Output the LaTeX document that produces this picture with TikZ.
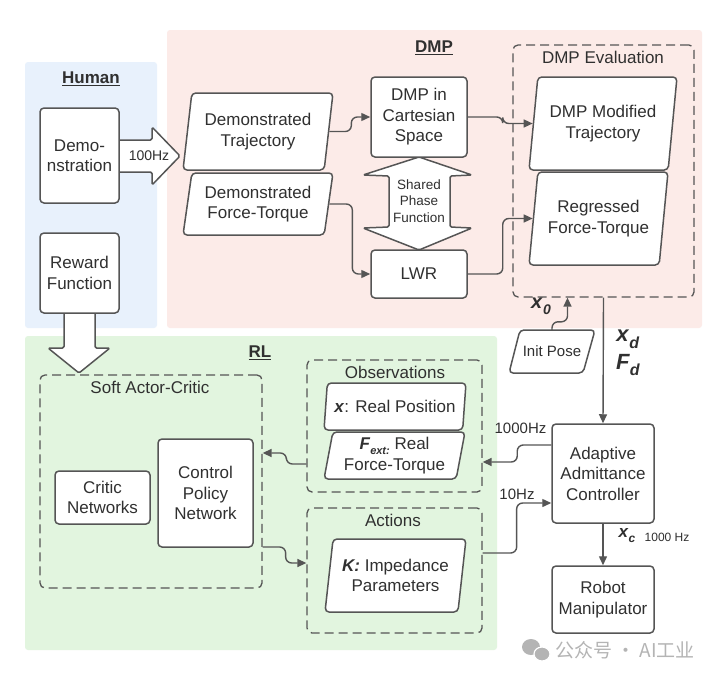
\documentclass[tikz,border=0pt]{standalone}
\usepackage{fontspec}
\setmainfont{Liberation Sans}
\newfontfamily\cjkfont{Noto Sans CJK SC}
\usetikzlibrary{shapes.geometric,arrows.meta}
\definecolor{humanbg}{HTML}{E8F1FC}
\definecolor{dmpbg}{HTML}{FCEBE8}
\definecolor{rlbg}{HTML}{E2F5DF}
\definecolor{edgec}{HTML}{555555}
\definecolor{txtc}{HTML}{303030}
\definecolor{wmc}{HTML}{B4B4B4}
\newcommand\fs[2]{\fontsize{#1}{#2}\selectfont}
\newcommand\bi[1]{\textbf{\textit{#1}}}
\newcommand\bvar[3]{\textbf{\textit{#1}}\raisebox{-.3em}{\fontsize{#3}{#3}\selectfont\textbf{\textit{#2}}}}
\begin{document}
\begin{tikzpicture}[x=1pt,y=-1pt,font=\fs{17}{20.5},text=txtc,
  rbox/.style={draw=edgec,line width=1.5pt,rounded corners=4pt,fill=white,align=center,inner sep=2pt},
  para/.style={trapezium,trapezium left angle=77,trapezium right angle=103,trapezium stretches body,
    draw=edgec,line width=1.5pt,rounded corners=4pt,fill=white,align=center,inner sep=1pt},
  paraline/.style={draw=edgec,line width=1.5pt,rounded corners=4pt,fill=white},
  dbox/.style={draw=edgec,line width=1.3pt,dash pattern=on 9pt off 5pt,rounded corners=5pt},
  conn/.style={draw=edgec,line width=1.4pt,rounded corners=6pt,-{Triangle[length=9pt,width=8pt]}},
  bigarr/.style={draw=edgec,line width=1.5pt,fill=white,rounded corners=1.5pt,line join=round},
  sectitle/.style={font=\fs{17}{20}\bfseries},
  dtitle/.style={font=\fs{17}{20}},
  small/.style={font=\fs{15}{18}}]
\useasboundingbox (0,0) rectangle (720,680);
\fill[white] (0,0) rectangle (720,680);
% backgrounds
\fill[humanbg,rounded corners=3pt] (25,62) rectangle (157,328);
\fill[dmpbg,rounded corners=3pt] (167,30) rectangle (702,328);
\fill[rlbg,rounded corners=3pt] (25,336) rectangle (497,650);
% section titles
\node[sectitle] (thuman) at (91,79) {\underline{Human}};
\node[sectitle] (tdmp) at (434,48) {\underline{DMP}};
\node[sectitle] (trl) at (260,353) {\underline{RL}};
% dashed groups
\node[dbox,minimum width=181,minimum height=252] (dmpeval) at (603.5,171) {};
\node[dtitle] (tdmpeval) at (603,57) {DMP Evaluation};
\node[dbox,minimum width=222,minimum height=213] (sac) at (151,481.5) {};
\node[dtitle] (tsac) at (150,387) {Soft Actor-Critic};
\node[dbox,minimum width=175,minimum height=132] (obs) at (394.5,426) {};
\node[dtitle] (tobs) at (395,372) {Observations};
\node[dbox,minimum width=175,minimum height=125] (act) at (394.5,570.5) {};
\node[dtitle] (tact) at (393,520) {Actions};
% big arrows
\draw[bigarr] (119,140) -- (152,140) -- (152,127) -- (180,156) -- (152,185) -- (152,172) -- (119,172);
\node[font=\fs{14}{16}] (hz100) at (149,156) {100Hz};
\draw[bigarr] (64,313) -- (64,348) -- (48,348) -- (79,373) -- (110,348) -- (95,348) -- (95,313);
\draw[bigarr] (419,157) -- (472,175) -- (450,176) -- (450,227) -- (472,228) -- (419,250) -- (363,228) -- (389,227) -- (389,176) -- (363,175) -- cycle;
\node[font=\fs{13.5}{16.7},align=center] (shared) at (419,201) {Shared\\Phase\\Function};
% boxes
\node[rbox,minimum width=79,minimum height=95] (demo) at (79.5,155.5) {Demo-\\nstration};
\node[rbox,minimum width=79,minimum height=80] (reward) at (79.5,273) {Reward\\Function};
\node[para,minimum width=150,minimum height=77] (dtraj) at (258,131.5) {Demonstrated\\Trajectory};
\node[para,minimum width=150,minimum height=62] (dft) at (258,204) {Demonstrated\\Force-Torque};
\node[rbox,minimum width=96,minimum height=80] (dmpcart) at (419,117) {DMP in\\Cartesian\\Space};
\node[rbox,minimum width=96,minimum height=48] (lwr) at (419,274) {LWR};
\node[para,minimum width=148,minimum height=93] (dmpmod) at (603,123.5) {DMP Modified\\Trajectory};
\node[para,minimum width=139,minimum height=93] (regft) at (598.5,218.5) {Regressed\\Force-Torque};
\draw[paraline] (520,330) -- (595,330) -- (583,373) -- (509,373) -- cycle;
\node[minimum height=43,inner sep=0pt,font=\fs{15}{18}] (initpose) at (552,351.5) {Init Pose};
\node[rbox,minimum width=102,minimum height=99] (aac) at (603,473.5) {Adaptive\\Admittance\\Controller};
\node[rbox,minimum width=102,minimum height=67] (robot) at (603,599.5) {Robot\\Manipulator};
\node[para,minimum width=142,minimum height=47] (xpos) at (395,406.5) {\bi{x}: Real Position};
\node[para,minimum width=141,minimum height=47] (fext) at (394.5,455.5) {\bvar{F}{ext:}{11} Real\\Force-Torque};
\node[para,minimum width=141,minimum height=73] (kimp) at (395.5,575.5) {\bi{K:} Impedance\\Parameters};
\node[rbox,minimum width=95,minimum height=53] (critic) at (102.5,497.5) {Critic\\Networks};
\node[rbox,minimum width=95,minimum height=108] (cpn) at (205.5,493) {Control\\Policy\\Network};
% connectors
\draw[conn] (dtraj.east) -- ++(22,0) |- (dmpcart.west);
\draw[conn] (dmpcart.east) -- ++(35,0) |- (dmpmod.west);
\draw[conn] (dft.east) -- ++(23,0) |- (lwr.west);
\draw[conn] (lwr.east) -- ++(35,0) |- (regft.west);
\coordinate (x0in) at ([xshift=-36pt]dmpeval.south);
\draw[conn] (initpose.north) -- ++(0,-8) -| (x0in);
\node[font=\fs{20}{20}] (lx0) at (541,306) {\bvar{x}{0}{14}};
\draw[conn] (dmpeval.south) -- (aac.north);
\node[font=\fs{22}{22}] (lxd) at (628,339) {\bvar{x}{d}{16}};
\node[font=\fs{22}{22}] (lfd) at (628,365) {\bvar{F}{d}{16}};
\draw[conn] (aac.south) -- (robot.north);
\node[font=\fs{17}{17}] (lxc) at (627,536) {\bvar{x}{c}{12}};
\node[font=\fs{12}{14}] (lhz3) at (667,537) {1000 Hz};
\draw[conn] ([yshift=28.5pt]aac.west) -- ++(-34,0) |- ([yshift=-36pt]obs.east);
\node[small] (lhz1) at (520.5,428) {1000Hz};
\draw[conn] ([yshift=17.5pt]act.east) -- ++(34,0) |- ([yshift=-29.5pt]aac.west);
\node[small] (lhz2) at (517,494) {10Hz};
\draw[conn] ([yshift=-38pt]obs.west) -- ++(-20,0) |- ([yshift=28.5pt]sac.east);
\draw[conn] ([yshift=-65.5pt]sac.east) -- ++(23,0) |- ([yshift=7.5pt]act.west);
% watermark
\fill[wmc] (531,647) ellipse [x radius=9pt,y radius=8pt];
\fill[wmc,draw=white,line width=1.2pt] (542,654) ellipse [x radius=8pt,y radius=7pt];
\node[font=\cjkfont\fs{19}{19},text=wmc] (wmtext) at (625,650) {公众号 · AI工业};
\end{tikzpicture}
\end{document}
